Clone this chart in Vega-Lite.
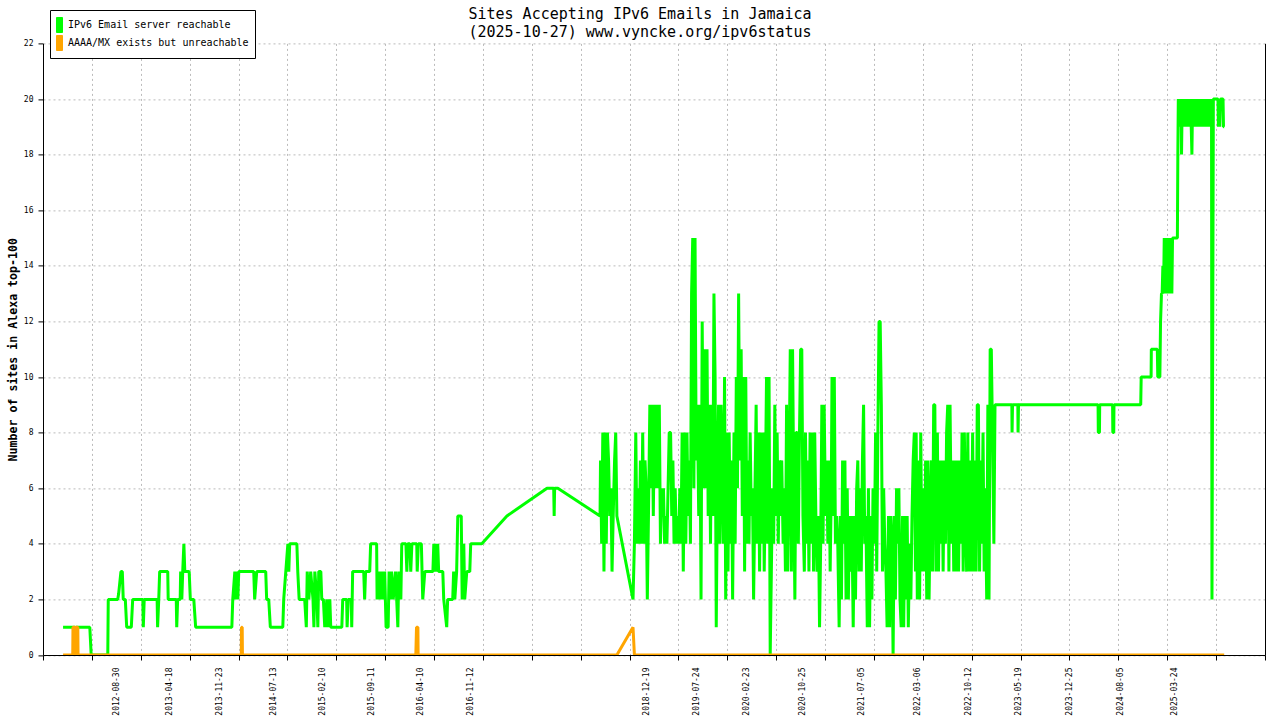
{
  "$schema": "https://vega.github.io/schema/vega-lite/v6.json",
  "autosize": {"type": "none"},
  "width": 1222,
  "height": 611.6,
  "padding": {"left": 43, "top": 43.4, "right": 15, "bottom": 65},
  "background": "white",
  "title": {
    "text": "Sites Accepting IPv6 Emails in Jamaica",
    "subtitle": "(2025-10-27) www.vyncke.org/ipv6status",
    "font": "DejaVu Sans Mono", "fontSize": 15, "fontWeight": "normal", "color": "black",
    "subtitleFont": "DejaVu Sans Mono", "subtitleFontSize": 15, "subtitleColor": "black", "subtitleFontWeight": "normal",
    "anchor": "middle", "frame": "group", "dx": -14, "offset": -30, "subtitlePadding": 3
  },
  "datasets": {
    "green": [
      {"d":"2012-01-13","v":1},{"d":"2012-03-04","v":1},{"d":"2012-03-06","v":0},{"d":"2012-03-08","v":1},
      {"d":"2012-05-08","v":1},{"d":"2012-05-14","v":0},{"d":"2012-07-25","v":0},{"d":"2012-07-27","v":2},
      {"d":"2012-09-06","v":2},{"d":"2012-09-10","v":2.2},{"d":"2012-09-20","v":3},{"d":"2012-09-26","v":3},
      {"d":"2012-09-30","v":2},{"d":"2012-10-09","v":2},{"d":"2012-10-15","v":1},{"d":"2012-11-04","v":1},
      {"d":"2012-11-10","v":2},{"d":"2012-12-24","v":2},{"d":"2012-12-26","v":1},{"d":"2012-12-30","v":2},
      {"d":"2013-02-24","v":2},{"d":"2013-02-26","v":1},{"d":"2013-03-03","v":2},{"d":"2013-03-07","v":3},
      {"d":"2013-04-11","v":3},{"d":"2013-04-13","v":2},{"d":"2013-05-18","v":2},{"d":"2013-05-20","v":1},
      {"d":"2013-05-24","v":2},{"d":"2013-06-04","v":2},{"d":"2013-06-06","v":3},{"d":"2013-06-11","v":2},
      {"d":"2013-06-15","v":3},{"d":"2013-06-20","v":4},{"d":"2013-06-24","v":3},{"d":"2013-07-13","v":3},
      {"d":"2013-07-18","v":2},{"d":"2013-08-02","v":2},{"d":"2013-08-10","v":1},{"d":"2014-01-14","v":1},
      {"d":"2014-01-18","v":2},{"d":"2014-01-27","v":3},{"d":"2014-01-31","v":2},{"d":"2014-02-04","v":3},
      {"d":"2014-02-09","v":2},{"d":"2014-02-13","v":3},{"d":"2014-04-19","v":3},{"d":"2014-04-23","v":2},
      {"d":"2014-05-02","v":3},{"d":"2014-06-10","v":3},{"d":"2014-06-14","v":2},{"d":"2014-06-23","v":2},
      {"d":"2014-06-30","v":1},{"d":"2014-08-23","v":1},{"d":"2014-08-27","v":2},{"d":"2014-09-05","v":3},
      {"d":"2014-09-14","v":4},{"d":"2014-09-18","v":3},{"d":"2014-09-22","v":4},{"d":"2014-10-23","v":4},
      {"d":"2014-10-27","v":3},{"d":"2014-11-02","v":2},{"d":"2014-11-26","v":2},{"d":"2014-12-03","v":1},
      {"d":"2014-12-07","v":3},{"d":"2014-12-14","v":2},{"d":"2014-12-22","v":3},{"d":"2015-01-01","v":2},
      {"d":"2015-01-05","v":1},{"d":"2015-01-09","v":3},{"d":"2015-01-18","v":2},{"d":"2015-01-22","v":1},
      {"d":"2015-01-26","v":3},{"d":"2015-02-04","v":3},{"d":"2015-02-08","v":2},{"d":"2015-02-15","v":2},
      {"d":"2015-02-21","v":1},{"d":"2015-03-02","v":2},{"d":"2015-03-06","v":1},{"d":"2015-03-15","v":2},
      {"d":"2015-03-19","v":1},{"d":"2015-05-06","v":1},{"d":"2015-05-10","v":2},{"d":"2015-05-27","v":2},
      {"d":"2015-05-29","v":1},{"d":"2015-06-03","v":2},{"d":"2015-06-16","v":2},{"d":"2015-06-18","v":1},
      {"d":"2015-06-22","v":3},{"d":"2015-08-09","v":3},{"d":"2015-08-13","v":2},{"d":"2015-08-17","v":3},
      {"d":"2015-09-04","v":3},{"d":"2015-09-08","v":4},{"d":"2015-10-04","v":4},{"d":"2015-10-06","v":2},
      {"d":"2015-10-13","v":3},{"d":"2015-10-19","v":2},{"d":"2015-10-26","v":3},{"d":"2015-11-01","v":2},
      {"d":"2015-11-08","v":3},{"d":"2015-11-14","v":1},{"d":"2015-11-23","v":1},{"d":"2015-11-27","v":3},
      {"d":"2015-12-02","v":2},{"d":"2015-12-08","v":3},{"d":"2015-12-15","v":2},{"d":"2015-12-25","v":3},
      {"d":"2016-01-04","v":1},{"d":"2016-01-08","v":3},{"d":"2016-01-17","v":2},{"d":"2016-01-21","v":4},
      {"d":"2016-02-08","v":4},{"d":"2016-02-12","v":3},{"d":"2016-02-16","v":4},{"d":"2016-02-25","v":4},
      {"d":"2016-02-29","v":3},{"d":"2016-03-05","v":4},{"d":"2016-03-26","v":4},{"d":"2016-03-28","v":3},
      {"d":"2016-04-02","v":4},{"d":"2016-04-15","v":4},{"d":"2016-04-21","v":2},{"d":"2016-04-30","v":3},
      {"d":"2016-06-04","v":3},{"d":"2016-06-08","v":4},{"d":"2016-06-12","v":3},{"d":"2016-06-16","v":4},
      {"d":"2016-06-21","v":3},{"d":"2016-06-25","v":4},{"d":"2016-06-29","v":3},{"d":"2016-07-17","v":3},
      {"d":"2016-07-21","v":2},{"d":"2016-08-03","v":1},{"d":"2016-08-07","v":2},{"d":"2016-08-29","v":2},
      {"d":"2016-09-02","v":3},{"d":"2016-09-07","v":2},{"d":"2016-09-15","v":3},{"d":"2016-09-20","v":5},
      {"d":"2016-10-05","v":5},{"d":"2016-10-09","v":2},{"d":"2016-10-16","v":4},{"d":"2016-10-20","v":2},
      {"d":"2016-10-29","v":3},{"d":"2016-11-11","v":3},{"d":"2016-11-15","v":4},{"d":"2017-01-02","v":4},
      {"d":"2017-04-21","v":5},{"d":"2017-10-12","v":6},{"d":"2017-11-10","v":6},{"d":"2017-11-12","v":5},
      {"d":"2017-11-14","v":6},{"d":"2017-11-28","v":6},{"d":"2018-05-30","v":5},
      {"d":"2018-06-01","v":7},{"d":"2018-06-06","v":4},{"d":"2018-06-11","v":8},{"d":"2018-06-16","v":3},{"d":"2018-06-21","v":8},{"d":"2018-06-26","v":4},
      {"d":"2018-07-01","v":8},{"d":"2018-07-06","v":7},{"d":"2018-07-11","v":5},{"d":"2018-07-16","v":6},{"d":"2018-07-21","v":3},{"d":"2018-07-26","v":5},
      {"d":"2018-08-01","v":7},{"d":"2018-08-06","v":8},{"d":"2018-08-11","v":5},
      {"d":"2018-10-20","v":2},{"d":"2018-10-26","v":4},
      {"d":"2018-11-01","v":8},{"d":"2018-11-06","v":4},{"d":"2018-11-11","v":6},{"d":"2018-11-16","v":4},{"d":"2018-11-21","v":7},{"d":"2018-11-26","v":4},
      {"d":"2018-12-01","v":8},{"d":"2018-12-06","v":4},{"d":"2018-12-11","v":7},{"d":"2018-12-16","v":6},{"d":"2018-12-21","v":2},{"d":"2018-12-26","v":5},
      {"d":"2019-01-01","v":9},{"d":"2019-01-06","v":6},{"d":"2019-01-11","v":9},{"d":"2019-01-16","v":5},{"d":"2019-01-21","v":9},{"d":"2019-01-26","v":6},
      {"d":"2019-02-01","v":9},{"d":"2019-02-06","v":6},{"d":"2019-02-11","v":9},{"d":"2019-02-16","v":4},{"d":"2019-02-21","v":6},{"d":"2019-02-26","v":5},
      {"d":"2019-03-01","v":6},{"d":"2019-03-06","v":4},{"d":"2019-03-11","v":5},{"d":"2019-03-16","v":4},{"d":"2019-03-21","v":6},{"d":"2019-03-26","v":8},
      {"d":"2019-04-01","v":8},{"d":"2019-04-06","v":5},{"d":"2019-04-11","v":7},{"d":"2019-04-16","v":4},{"d":"2019-04-21","v":6},{"d":"2019-04-26","v":4},
      {"d":"2019-05-01","v":5},{"d":"2019-05-06","v":4},{"d":"2019-05-11","v":6},{"d":"2019-05-16","v":4},{"d":"2019-05-21","v":8},{"d":"2019-05-26","v":3},
      {"d":"2019-06-01","v":8},{"d":"2019-06-06","v":4},{"d":"2019-06-11","v":8},{"d":"2019-06-16","v":5},{"d":"2019-06-21","v":7},{"d":"2019-06-26","v":4},
      {"d":"2019-07-01","v":13},{"d":"2019-07-06","v":15},{"d":"2019-07-11","v":6},{"d":"2019-07-16","v":15},{"d":"2019-07-21","v":7},{"d":"2019-07-26","v":9},
      {"d":"2019-08-01","v":5},{"d":"2019-08-06","v":9},{"d":"2019-08-11","v":2},{"d":"2019-08-16","v":12},{"d":"2019-08-21","v":6},{"d":"2019-08-26","v":11},
      {"d":"2019-09-01","v":6},{"d":"2019-09-06","v":11},{"d":"2019-09-11","v":5},{"d":"2019-09-16","v":9},{"d":"2019-09-21","v":4},{"d":"2019-09-26","v":9},
      {"d":"2019-10-01","v":5},{"d":"2019-10-06","v":13},{"d":"2019-10-11","v":10},{"d":"2019-10-16","v":1},{"d":"2019-10-21","v":6},{"d":"2019-10-26","v":9},
      {"d":"2019-11-01","v":4},{"d":"2019-11-06","v":9},{"d":"2019-11-11","v":7},{"d":"2019-11-16","v":4},{"d":"2019-11-21","v":10},{"d":"2019-11-26","v":2},
      {"d":"2019-12-01","v":8},{"d":"2019-12-06","v":3},{"d":"2019-12-11","v":8},{"d":"2019-12-16","v":4},{"d":"2019-12-21","v":7},{"d":"2019-12-26","v":2},
      {"d":"2020-01-01","v":8},{"d":"2020-01-06","v":4},{"d":"2020-01-11","v":10},{"d":"2020-01-16","v":6},{"d":"2020-01-21","v":13},{"d":"2020-01-26","v":7},
      {"d":"2020-02-01","v":11},{"d":"2020-02-06","v":5},{"d":"2020-02-11","v":10},{"d":"2020-02-16","v":3},{"d":"2020-02-21","v":10},{"d":"2020-02-26","v":4},
      {"d":"2020-03-01","v":7},{"d":"2020-03-06","v":4},{"d":"2020-03-11","v":8},{"d":"2020-03-16","v":5},{"d":"2020-03-21","v":6},{"d":"2020-03-26","v":2},
      {"d":"2020-04-01","v":6},{"d":"2020-04-06","v":9},{"d":"2020-04-11","v":4},{"d":"2020-04-16","v":8},{"d":"2020-04-21","v":3},{"d":"2020-04-26","v":8},
      {"d":"2020-05-01","v":4},{"d":"2020-05-06","v":8},{"d":"2020-05-11","v":3},{"d":"2020-05-16","v":6},{"d":"2020-05-21","v":10},{"d":"2020-05-26","v":4},
      {"d":"2020-06-01","v":10},{"d":"2020-06-06","v":0},{"d":"2020-06-11","v":3},{"d":"2020-06-16","v":6},{"d":"2020-06-21","v":4},{"d":"2020-06-26","v":9},
      {"d":"2020-07-01","v":5},{"d":"2020-07-06","v":8},{"d":"2020-07-11","v":4},{"d":"2020-07-16","v":7},{"d":"2020-07-21","v":5},{"d":"2020-07-26","v":7},
      {"d":"2020-08-01","v":4},{"d":"2020-08-06","v":6},{"d":"2020-08-11","v":3},{"d":"2020-08-16","v":9},{"d":"2020-08-21","v":3},{"d":"2020-08-26","v":6},
      {"d":"2020-09-01","v":11},{"d":"2020-09-06","v":3},{"d":"2020-09-11","v":11},{"d":"2020-09-16","v":6},{"d":"2020-09-21","v":2},{"d":"2020-09-26","v":8},
      {"d":"2020-10-01","v":8},{"d":"2020-10-06","v":4},{"d":"2020-10-11","v":8},{"d":"2020-10-16","v":11},{"d":"2020-10-21","v":11},{"d":"2020-10-26","v":5},
      {"d":"2020-11-01","v":3},{"d":"2020-11-06","v":8},{"d":"2020-11-11","v":4},{"d":"2020-11-16","v":7},{"d":"2020-11-21","v":3},{"d":"2020-11-26","v":8},
      {"d":"2020-12-01","v":4},{"d":"2020-12-06","v":8},{"d":"2020-12-11","v":3},{"d":"2020-12-16","v":8},{"d":"2020-12-21","v":5},{"d":"2020-12-26","v":3},
      {"d":"2021-01-01","v":5},{"d":"2021-01-06","v":1},{"d":"2021-01-11","v":4},{"d":"2021-01-16","v":9},{"d":"2021-01-21","v":4},{"d":"2021-01-26","v":9},
      {"d":"2021-02-01","v":5},{"d":"2021-02-06","v":7},{"d":"2021-02-11","v":4},{"d":"2021-02-16","v":7},{"d":"2021-02-21","v":3},{"d":"2021-02-26","v":6},
      {"d":"2021-03-01","v":10},{"d":"2021-03-06","v":5},{"d":"2021-03-11","v":10},{"d":"2021-03-16","v":4},{"d":"2021-03-21","v":5},{"d":"2021-03-26","v":4},
      {"d":"2021-04-01","v":1},{"d":"2021-04-06","v":5},{"d":"2021-04-11","v":2},{"d":"2021-04-16","v":7},{"d":"2021-04-21","v":4},{"d":"2021-04-26","v":7},
      {"d":"2021-05-01","v":2},{"d":"2021-05-06","v":6},{"d":"2021-05-11","v":2},{"d":"2021-05-16","v":5},{"d":"2021-05-21","v":3},{"d":"2021-05-26","v":5},
      {"d":"2021-06-01","v":1},{"d":"2021-06-06","v":5},{"d":"2021-06-11","v":2},{"d":"2021-06-16","v":6},{"d":"2021-06-21","v":7},{"d":"2021-06-26","v":3},
      {"d":"2021-07-01","v":6},{"d":"2021-07-06","v":3},{"d":"2021-07-11","v":7},{"d":"2021-07-16","v":9},{"d":"2021-07-21","v":4},{"d":"2021-07-26","v":5},
      {"d":"2021-08-01","v":1},{"d":"2021-08-06","v":6},{"d":"2021-08-11","v":1},{"d":"2021-08-16","v":5},{"d":"2021-08-21","v":2},{"d":"2021-08-26","v":6},
      {"d":"2021-09-01","v":4},{"d":"2021-09-06","v":8},{"d":"2021-09-11","v":3},{"d":"2021-09-16","v":8},{"d":"2021-09-21","v":12},{"d":"2021-09-26","v":12},
      {"d":"2021-10-01","v":9},{"d":"2021-10-06","v":3},{"d":"2021-10-11","v":6},{"d":"2021-10-16","v":4},{"d":"2021-10-21","v":3},{"d":"2021-10-26","v":1},
      {"d":"2021-11-01","v":5},{"d":"2021-11-06","v":1},{"d":"2021-11-11","v":5},{"d":"2021-11-16","v":4},{"d":"2021-11-21","v":0},{"d":"2021-11-26","v":5},
      {"d":"2021-12-01","v":2},{"d":"2021-12-06","v":6},{"d":"2021-12-11","v":4},{"d":"2021-12-16","v":6},{"d":"2021-12-21","v":2},{"d":"2021-12-26","v":1},
      {"d":"2022-01-01","v":5},{"d":"2022-01-06","v":1},{"d":"2022-01-11","v":5},{"d":"2022-01-16","v":2},{"d":"2022-01-21","v":5},{"d":"2022-01-26","v":1},
      {"d":"2022-02-01","v":4},{"d":"2022-02-06","v":2},{"d":"2022-02-11","v":5},{"d":"2022-02-16","v":7},{"d":"2022-02-21","v":8},{"d":"2022-02-26","v":3},
      {"d":"2022-03-01","v":8},{"d":"2022-03-06","v":2},{"d":"2022-03-11","v":7},{"d":"2022-03-16","v":2},{"d":"2022-03-21","v":8},{"d":"2022-03-26","v":3},
      {"d":"2022-04-01","v":6},{"d":"2022-04-06","v":3},{"d":"2022-04-11","v":7},{"d":"2022-04-16","v":2},{"d":"2022-04-21","v":7},{"d":"2022-04-26","v":2},
      {"d":"2022-05-01","v":5},{"d":"2022-05-06","v":7},{"d":"2022-05-11","v":3},{"d":"2022-05-16","v":9},{"d":"2022-05-21","v":9},{"d":"2022-05-26","v":3},
      {"d":"2022-06-01","v":8},{"d":"2022-06-06","v":3},{"d":"2022-06-11","v":7},{"d":"2022-06-16","v":4},{"d":"2022-06-21","v":7},{"d":"2022-06-26","v":3},
      {"d":"2022-07-01","v":7},{"d":"2022-07-06","v":4},{"d":"2022-07-11","v":8},{"d":"2022-07-16","v":9},{"d":"2022-07-21","v":3},{"d":"2022-07-26","v":9},
      {"d":"2022-08-01","v":4},{"d":"2022-08-06","v":7},{"d":"2022-08-11","v":3},{"d":"2022-08-16","v":7},{"d":"2022-08-21","v":3},{"d":"2022-08-26","v":7},
      {"d":"2022-09-01","v":3},{"d":"2022-09-06","v":7},{"d":"2022-09-11","v":4},{"d":"2022-09-16","v":8},{"d":"2022-09-21","v":3},{"d":"2022-09-26","v":8},
      {"d":"2022-10-01","v":5},{"d":"2022-10-06","v":3},{"d":"2022-10-11","v":8},{"d":"2022-10-16","v":3},{"d":"2022-10-21","v":7},{"d":"2022-10-26","v":3},
      {"d":"2022-11-01","v":8},{"d":"2022-11-06","v":3},{"d":"2022-11-11","v":7},{"d":"2022-11-16","v":3},{"d":"2022-11-21","v":9},{"d":"2022-11-26","v":9},
      {"d":"2022-12-01","v":3},{"d":"2022-12-06","v":7},{"d":"2022-12-11","v":4},{"d":"2022-12-16","v":8},{"d":"2022-12-21","v":3},{"d":"2022-12-26","v":6},
      {"d":"2023-01-01","v":2},{"d":"2023-01-06","v":9},{"d":"2023-01-11","v":2},{"d":"2023-01-16","v":11},{"d":"2023-01-21","v":11},{"d":"2023-01-26","v":8},
      {"d":"2023-02-01","v":4},{"d":"2023-02-06","v":9},
      {"d":"2023-04-20","v":9},{"d":"2023-04-21","v":8},{"d":"2023-04-23","v":9},
      {"d":"2023-05-16","v":9},{"d":"2023-05-17","v":8},{"d":"2023-05-19","v":9},
      {"d":"2024-04-28","v":9},{"d":"2024-04-29","v":8},{"d":"2024-05-04","v":8},{"d":"2024-05-05","v":9},
      {"d":"2024-06-30","v":9},{"d":"2024-07-01","v":8},{"d":"2024-07-05","v":8},{"d":"2024-07-06","v":9},
      {"d":"2024-10-30","v":9},{"d":"2024-11-01","v":10},{"d":"2024-12-14","v":10},{"d":"2024-12-15","v":11},
      {"d":"2025-01-10","v":11},{"d":"2025-01-12","v":10},{"d":"2025-01-21","v":10},{"d":"2025-01-24","v":12},
      {"d":"2025-01-28","v":13},{"d":"2025-01-31","v":13},{"d":"2025-02-03","v":14},{"d":"2025-02-06","v":13},
      {"d":"2025-02-09","v":15},{"d":"2025-02-12","v":14},{"d":"2025-02-15","v":15},{"d":"2025-02-18","v":13},
      {"d":"2025-02-21","v":15},{"d":"2025-02-24","v":14},{"d":"2025-02-27","v":15},{"d":"2025-03-02","v":13},
      {"d":"2025-03-05","v":15},{"d":"2025-03-08","v":13},{"d":"2025-03-11","v":15},{"d":"2025-03-14","v":13},
      {"d":"2025-03-17","v":15},{"d":"2025-03-20","v":15},{"d":"2025-04-07","v":15},{"d":"2025-04-09","v":18},
      {"d":"2025-04-11","v":20},{"d":"2025-04-14","v":19},{"d":"2025-04-17","v":20},{"d":"2025-04-20","v":19},
      {"d":"2025-04-23","v":20},{"d":"2025-04-25","v":18},{"d":"2025-04-28","v":20},{"d":"2025-05-01","v":19},
      {"d":"2025-05-04","v":20},{"d":"2025-05-07","v":19},{"d":"2025-05-10","v":20},{"d":"2025-05-13","v":19},
      {"d":"2025-05-16","v":20},{"d":"2025-05-19","v":19},{"d":"2025-05-22","v":20},{"d":"2025-05-25","v":19},
      {"d":"2025-05-28","v":20},{"d":"2025-05-31","v":19},{"d":"2025-06-03","v":20},{"d":"2025-06-06","v":19},
      {"d":"2025-06-09","v":18},{"d":"2025-06-12","v":20},{"d":"2025-06-15","v":19},{"d":"2025-06-18","v":20},
      {"d":"2025-06-21","v":19},{"d":"2025-06-24","v":20},{"d":"2025-06-27","v":19},{"d":"2025-06-30","v":20},
      {"d":"2025-07-03","v":19},{"d":"2025-07-06","v":20},{"d":"2025-07-09","v":19},{"d":"2025-07-12","v":20},
      {"d":"2025-07-15","v":19},{"d":"2025-07-18","v":20},{"d":"2025-07-21","v":19},{"d":"2025-07-24","v":20},
      {"d":"2025-07-27","v":19},{"d":"2025-07-30","v":20},{"d":"2025-08-02","v":19},{"d":"2025-08-05","v":20},
      {"d":"2025-08-08","v":19},{"d":"2025-08-11","v":20},{"d":"2025-08-14","v":19},{"d":"2025-08-17","v":20},
      {"d":"2025-08-20","v":19},{"d":"2025-08-23","v":20},{"d":"2025-08-26","v":19},{"d":"2025-08-29","v":20},
      {"d":"2025-09-01","v":19},{"d":"2025-09-02","v":20},{"d":"2025-09-04","v":2},{"d":"2025-09-10","v":20},
      {"d":"2025-09-30","v":20},{"d":"2025-10-02","v":19},{"d":"2025-10-05","v":20},{"d":"2025-10-08","v":19},
      {"d":"2025-10-11","v":20},{"d":"2025-10-22","v":20},{"d":"2025-10-24","v":19},{"d":"2025-10-27","v":19}
    ],
    "orange": [
      {"d":"2012-01-13","v":0},{"d":"2012-02-24","v":0},{"d":"2012-02-25","v":1},{"d":"2012-03-04","v":1},
      {"d":"2012-03-06","v":0},{"d":"2012-03-08","v":1},{"d":"2012-03-17","v":1},{"d":"2012-03-18","v":0},
      {"d":"2014-02-24","v":0},{"d":"2014-02-25","v":1},{"d":"2014-02-28","v":1},{"d":"2014-03-01","v":0},
      {"d":"2016-03-22","v":0},{"d":"2016-03-25","v":1},{"d":"2016-03-31","v":1},{"d":"2016-04-01","v":0},
      {"d":"2018-08-11","v":0},{"d":"2018-10-20","v":1},{"d":"2018-10-26","v":0},{"d":"2025-10-27","v":0}
    ]
  },
  "layer": [
    {
      "data": {"name": "green"},
      "mark": {"type": "line", "strokeWidth": 3, "strokeJoin": "bevel", "strokeCap": "butt", "clip": true},
      "encoding": {
        "x": {
          "field": "d", "type": "temporal",
          "scale": {"type": "utc", "domain": [1318896000000, 1776816000000]},
          "axis": {
            "orient": "bottom", "title": null, "grid": false, "ticks": false, "tickSize": 0, "domain": false,
            "values": [1346284800000, 1366243200000, 1385164800000, 1405209600000, 1423526400000, 1441929600000, 1460246400000, 1478908800000, 1545177600000, 1563926400000, 1582416000000, 1603584000000, 1625443200000, 1646524800000, 1665532800000, 1684454400000, 1703462400000, 1722816000000, 1742774400000],
            "format": "%Y-%m-%d", "labelAngle": -90, "labelFont": "DejaVu Sans Mono", "labelFontSize": 8,
            "labelColor": "black", "labelPadding": 12, "labelOverlap": false, "labelFlush": false
          }
        },
        "y": {
          "field": "v", "type": "quantitative",
          "scale": {"domain": [0, 22], "nice": false},
          "axis": {
            "orient": "left", "values": [0, 2, 4, 6, 8, 10, 12, 14, 16, 18, 20, 22],
            "title": "Number of sites in Alexa top-100", "titleFont": "DejaVu Sans Mono", "titleFontSize": 11.6,
            "titleFontWeight": "bold", "titleColor": "black", "titlePadding": 5,
            "labelFont": "DejaVu Sans Mono", "labelFontSize": 8, "labelColor": "black", "labelPadding": 5,
            "tickColor": "black", "tickSize": 5, "domainColor": "black",
            "grid": true, "gridColor": "#bbbbbb", "gridDash": [2, 3], "labelOverlap": false
          }
        },
        "color": {
          "datum": "IPv6 Email server reachable", "type": "nominal",
          "scale": {"domain": ["IPv6 Email server reachable", "AAAA/MX exists but unreachable"], "range": ["#00ff00", "#ffa500"]},
          "legend": {
            "title": null, "orient": "none", "legendX": 7, "legendY": -33.4,
            "strokeColor": "black", "fillColor": "white", "padding": 6, "rowPadding": 0, "clipHeight": 18,
            "labelFont": "DejaVu Sans Mono", "labelFontSize": 10, "labelColor": "black", "labelOffset": -4, "labelLimit": 400,
            "symbolType": "M-1,-1H-0.2V1H-1Z", "symbolSize": 225, "symbolStrokeWidth": 1,
            "encode": {"symbols": {"update": {"fill": {"scale": "color", "field": "value"}, "stroke": {"value": "black"}, "strokeWidth": {"value": 1}, "opacity": {"value": 1}}}}
          }
        }
      }
    },
    {
      "data": {"name": "orange"},
      "mark": {"type": "line", "strokeWidth": 3, "strokeJoin": "bevel", "strokeCap": "butt", "clip": true},
      "encoding": {
        "x": {
          "field": "d", "type": "temporal",
          "scale": {"type": "utc", "domain": [1318896000000, 1776816000000]},
          "axis": {
            "orient": "bottom", "title": null, "labels": false, "ticks": true, "tickSize": 5, "tickColor": "black",
            "domain": true, "domainColor": "black",
            "grid": true, "gridColor": "#bbbbbb", "gridDash": [2, 3],
            "values": [1318896000000, 1337212800000, 1355529600000, 1373846400000, 1392163200000, 1410480000000, 1428796800000, 1447113600000, 1465430400000, 1483747200000, 1502064000000, 1520380800000, 1538697600000, 1557014400000, 1575331200000, 1593648000000, 1611964800000, 1630281600000, 1648598400000, 1666915200000, 1685232000000, 1703548800000, 1721865600000, 1740182400000, 1758499200000, 1776816000000]
          }
        },
        "y": {
          "field": "v", "type": "quantitative",
          "scale": {"domain": [0, 22], "nice": false},
          "axis": {"orient": "right", "title": null, "labels": false, "ticks": false, "grid": false, "domain": true, "domainColor": "black"}
        },
        "color": {"datum": "AAAA/MX exists but unreachable", "type": "nominal"}
      }
    }
  ],
  "resolve": {"axis": {"x": "independent", "y": "independent"}},
  "config": {"view": {"stroke": null}}
}
